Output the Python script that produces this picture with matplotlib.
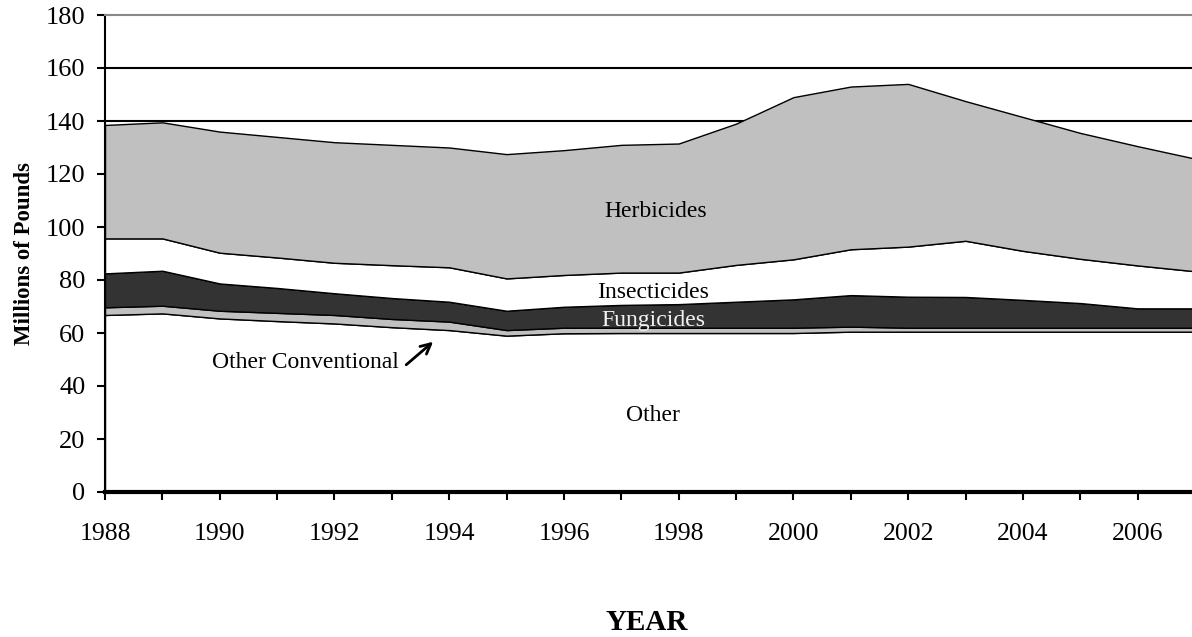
import numpy as np
import matplotlib.pyplot as plt

plt.rcParams['font.family'] = ['Liberation Serif', 'DejaVu Serif']

# Pesticide use by type, millions of pounds
years = np.arange(1988, 2008)
other = [66.8, 67.4, 65.5, 64.5, 63.6, 62.2, 61.1, 59.0, 59.9, 60.0,
         60.0, 60.0, 60.0, 60.5, 60.5, 60.5, 60.5, 60.5, 60.5, 60.5]
other_conventional = [2.9, 2.9, 2.9, 3.1, 3.2, 3.1, 3.2, 2.1, 2.1, 2.0,
                      2.0, 2.0, 2.0, 1.9, 1.5, 1.5, 1.5, 1.5, 1.5, 1.5]
fungicides = [12.8, 13.2, 10.3, 9.4, 8.2, 7.9, 7.5, 7.3, 7.9, 8.6,
              8.9, 9.8, 10.7, 11.9, 11.7, 11.6, 10.5, 9.3, 7.3, 7.3]
insecticides = [13.2, 12.2, 11.6, 11.5, 11.5, 12.4, 13.0, 12.2, 12.0, 12.2,
                11.9, 13.9, 15.1, 17.3, 18.9, 21.2, 18.5, 16.7, 16.2, 14.0]
herbicides = [42.8, 43.8, 45.7, 45.5, 45.5, 45.4, 45.2, 46.9, 47.1, 48.2,
              48.7, 53.3, 61.2, 61.4, 61.4, 52.7, 50.5, 47.5, 45.0, 42.5]

layer_colors = ['white', '#c0c0c0', '#333333', 'white', '#c0c0c0']

fig = plt.figure(figsize=(11.92, 6.37), dpi=100)
ax = fig.add_axes([105 / 1192, 145 / 637, 1090 / 1192, 477 / 637])

# gridlines behind the areas
for yv in range(20, 180, 20):
    ax.axhline(yv, color='black', lw=1.5, zorder=0)

ax.stackplot(years, other, other_conventional, fungicides, insecticides, herbicides,
             colors=layer_colors, edgecolor='black', linewidth=1.0, zorder=2)

ax.set_xlim(1988, 2007)
ax.set_ylim(0, 180)
ax.set_xticks(np.arange(1988, 2008, 2))
ax.set_xticks(np.arange(1988, 2008, 1), minor=True)
ax.set_yticks(np.arange(0, 181, 20))
ax.tick_params(axis='both', direction='out', length=6, width=1.5, colors='black')
ax.tick_params(axis='x', which='minor', length=6, width=1.5)
ax.tick_params(axis='x', labelsize=18.5, pad=16)
ax.tick_params(axis='y', labelsize=19, pad=8)

ax.spines['right'].set_visible(False)
ax.spines['top'].set_color('#888888')
ax.spines['top'].set_linewidth(1.5)
ax.spines['left'].set_linewidth(1.5)
ax.spines['bottom'].set_linewidth(3)

ax.set_ylabel('Millions of Pounds', fontsize=16.5, fontweight='bold', labelpad=8)
fig.text(647 / 1192, 1 - 622 / 637, 'YEAR', fontsize=21, fontweight='bold',
         ha='center', va='center')

ax.text(1997.6, 105.7, 'Herbicides', fontsize=17, ha='center', va='center', zorder=5)
ax.text(1997.55, 75.1, 'Insecticides', fontsize=17, ha='center', va='center', zorder=5)
ax.text(1997.55, 64.6, 'Fungicides', fontsize=17, ha='center', va='center',
        color='#f2f2f2', zorder=5)
ax.text(1997.55, 28.7, 'Other', fontsize=17, ha='center', va='center', zorder=5)
ax.text(1991.5, 49.0, 'Other Conventional', fontsize=17, ha='center', va='center', zorder=5)
ax.annotate('', xy=(1993.72, 56.7), xytext=(1993.25, 48.0), zorder=5,
            arrowprops=dict(arrowstyle='->', color='black', lw=2,
                            shrinkA=0, shrinkB=0, mutation_scale=18))

fig.savefig('out.png', dpi=100)
